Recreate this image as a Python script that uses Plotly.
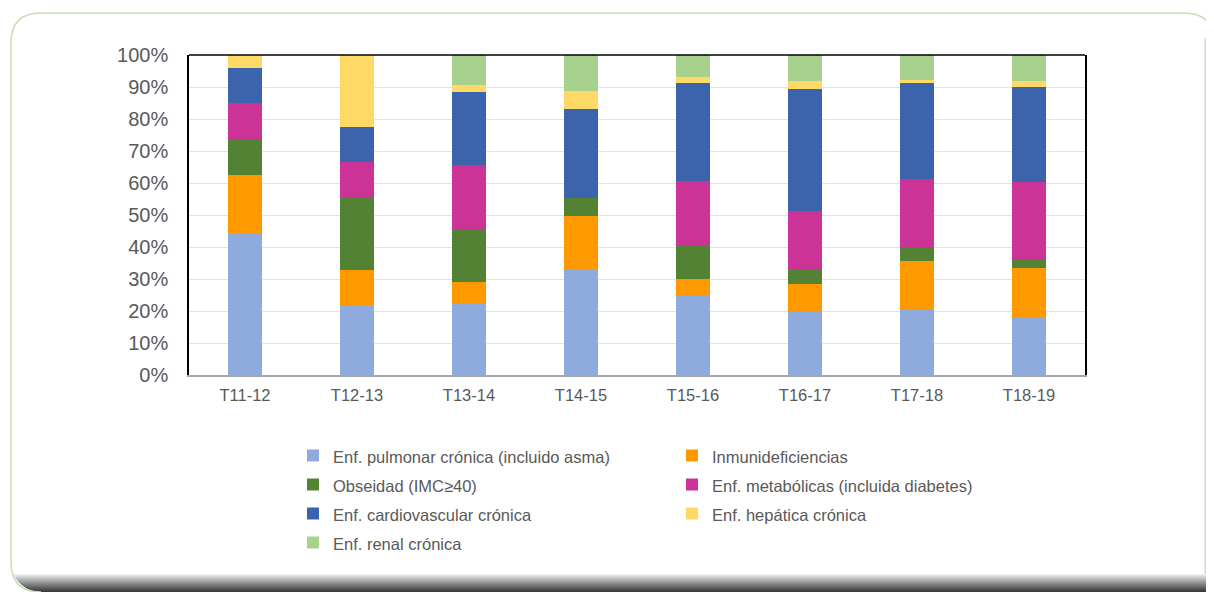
import plotly.graph_objects as go

categories = ["T11-12", "T12-13", "T13-14", "T14-15", "T15-16", "T16-17", "T17-18", "T18-19"]

series_names = [
    "Enf. pulmonar crónica (incluido asma)",
    "Inmunideficiencias",
    "Obseidad (IMC≥40)",
    "Enf. metabólicas (incluida diabetes)",
    "Enf. cardiovascular crónica",
    "Enf. hepática crónica",
    "Enf. renal crónica",
]

pulmonar = [44.3, 21.8, 22.4, 33.0, 25.1, 19.7, 20.4, 18.2]
inmuno = [18.2, 11.1, 6.7, 16.7, 4.9, 8.6, 15.3, 15.3]
obesidad = [11.25, 22.4, 16.2, 5.6, 10.4, 4.8, 4.2, 2.3]
metabolicas = [11.25, 11.2, 20.4, 0.0, 20.3, 18.2, 21.5, 24.4]
cardio = [11.0, 11.0, 22.7, 27.8, 30.5, 38.1, 29.7, 29.9]
hepatica = [4.0, 22.5, 2.3, 5.6, 1.8, 2.4, 1.0, 1.7]
renal = [0.0, 0.0, 9.3, 11.25, 7.0, 8.1, 7.9, 8.2]

y_ticks = [0, 10, 20, 30, 40, 50, 60, 70, 80, 90, 100]

colors = ["#8FAADC", "#FF9900", "#548235", "#CB3396", "#3C64AD", "#FFD966", "#A9D18E"]
values = [pulmonar, inmuno, obesidad, metabolicas, cardio, hepatica, renal]

PW, PH = 1214, 592      # page size
OFF = 8                 # default body margin of the html page
W, H = PW - OFF, PH - OFF
L, R, T, B = 189, 1085, 55, 375  # plot area in page pixels


def px(x):
    return (x - L) / (R - L)


def py(y):
    return (B - y) / (B - T)


fig = go.Figure()
for i, (name, vals, col) in enumerate(zip(series_names, values, colors)):
    fig.add_trace(go.Bar(
        x=categories, y=vals,
        name=f'<span style="font-size:16.5px">{name}</span>',
        marker=dict(color=col, line=dict(width=0)),
    ))

shapes = []
# bottom inner shading of the frame
n = 18
for i in range(n):
    y0 = 574 + i
    y1 = y0 + 1.05
    t = (i + 1) / n
    g = int(255 - (255 - 58) * t ** 0.9)
    yc = y0 + 0.5
    r = 30
    cy = 592 - r
    if yc > cy:
        xl = 41 - (r ** 2 - (yc - cy) ** 2) ** 0.5
    else:
        xl = 11
    shapes.append(dict(type="rect", xref="paper", yref="paper",
                       x0=px(xl), x1=px(PW), y0=py(y1), y1=py(y0),
                       fillcolor=f"rgb({g},{g},{g})", line=dict(width=0), layer="below"))
# right shading
m = 10
for i in range(m):
    x0 = 1204 + i
    t = (i + 1) / m
    g = int(255 - (255 - 95) * t ** 0.9)
    shapes.append(dict(type="rect", xref="paper", yref="paper",
                       x0=px(x0), x1=px(x0 + 1.05), y0=py(574), y1=py(38 + i * 0.5),
                       fillcolor=f"rgb({g},{g},{g})", line=dict(width=0), layer="below"))

# frame border (green)
pts = [("M", (41, 592)), ("Q", (11, 592), (11, 562)), ("L", (11, 43)),
       ("Q", (11, 13), (41, 13)), ("L", (1184, 13)), ("Q", (1214, 13), (1214, 43))]
path = ""
for item in pts:
    cmd = item[0]
    coords = " ".join(f"{px(a):.5f},{py(b):.5f}" for a, b in item[1:])
    path += f"{cmd} {coords} "
shapes.append(dict(type="path", xref="paper", yref="paper", path=path,
                   line=dict(color="#C5DEB3", width=1.5), layer="below"))

# top border line of the plot area
shapes.append(dict(type="line", xref="paper", yref="paper", x0=0, x1=1, y0=1, y1=1,
                   line=dict(color="#000000", width=1.5), layer="above"))

fig.update_layout(
    width=W, height=H,
    margin=dict(l=L - OFF, r=PW - R, t=T - OFF, b=PH - B, pad=0),
    paper_bgcolor="white",
    plot_bgcolor="rgba(0,0,0,0)",
    barmode="stack",
    barnorm="percent",
    bargap=0.69,
    font=dict(family="Liberation Sans, Arial, sans-serif", color="#595959"),
    showlegend=True,
    legend=dict(
        orientation="h",
        x=px(293), xanchor="left",
        y=py(436), yanchor="top",
        font=dict(size=20, color="#595959"),
        entrywidth=334, entrywidthmode="pixels",
        traceorder="normal",
        bgcolor="rgba(0,0,0,0)",
        itemclick=False,
    ),
    shapes=shapes,
    xaxis=dict(
        showgrid=False,
        showline=True, linecolor="#A6A6A6", linewidth=1.5,
        ticks="", tickfont=dict(size=16.5, color="#595959"),
        ticklabelstandoff=4,
    ),
    yaxis=dict(
        range=[0, 100],
        tickvals=y_ticks,
        ticktext=[f"{v}%" for v in y_ticks],
        showgrid=True, gridcolor="#E3E3E3", gridwidth=1,
        showline=True, linecolor="#000000", linewidth=1.5, mirror=True,
        ticks="", tickfont=dict(size=20, color="#595959"),
        ticklabelstandoff=15,
        zeroline=False,
    ),
)

fig.write_html("out.html")
